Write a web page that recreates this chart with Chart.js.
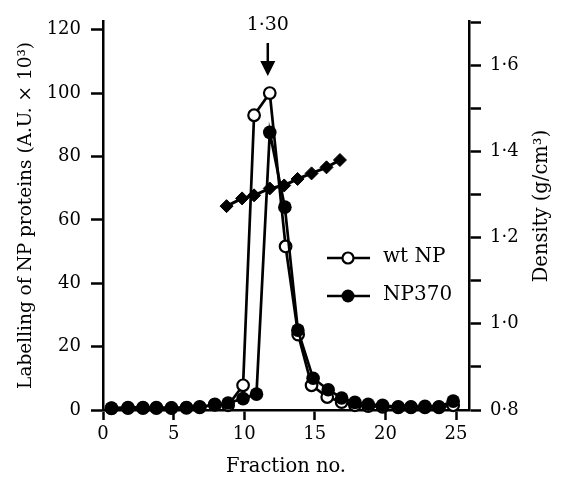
<!DOCTYPE html>
<html>
<head>
<meta charset="utf-8">
<script src="https://cdn.jsdelivr.net/npm/chart.js@4.4.1/dist/chart.umd.min.js"></script>
<style>
    html, body { margin: 0; padding: 0; background: #fff; }
    #wrap { position: relative; width: 565px; height: 483px; }
</style>
</head>
<body>
<div id="wrap"><canvas id="gradientChart"></canvas></div>
<script>
/**
 * Density gradient profile - wt NP vs NP370
 */

// Fraction positions and labelling (A.U. x 10^3)
const wtFractions = [0.6, 1.77, 2.83, 3.78, 4.85, 5.91, 6.85, 7.92, 8.86, 9.92, 10.7, 11.81, 12.93,
    13.82, 14.77, 15.88, 16.9, 17.84, 18.78, 19.8, 20.91, 21.81, 22.8, 23.79, 24.8];
const wtValues = [0.5, 0.6, 0.6, 0.6, 0.6, 0.7, 0.8, 1.8, 1.5, 7.8, 93, 100, 51.6,
    23.8, 7.8, 4.1, 2.5, 1.5, 1.2, 1.0, 0.8, 0.8, 0.8, 0.8, 1.5];

const np370Fractions = [0.6, 1.77, 2.83, 3.78, 4.85, 5.91, 6.85, 7.92, 8.86, 9.92, 10.87, 11.81, 12.88,
    13.8, 14.88, 15.95, 16.9, 17.84, 18.78, 19.8, 20.91, 21.81, 22.8, 23.79, 24.8];
const np370Values = [0.6, 0.8, 0.8, 0.8, 0.7, 0.8, 1.0, 1.6, 2.2, 3.6, 5.0, 87.6, 64,
    25.2, 10, 6.4, 3.8, 2.4, 1.8, 1.5, 1.0, 1.0, 1.2, 1.0, 2.8];

// Density (g/cm3)
const densityFractions = [8.75, 9.85, 10.7, 11.81, 12.83, 13.78, 14.77, 15.83, 16.78];
const densityValues = [1.273, 1.291, 1.298, 1.314, 1.321, 1.336, 1.349, 1.363, 1.380];

// Axis ticks
const xTicks = [0, 5, 10, 15, 20, 25];
const leftTicks = [0, 20, 40, 60, 80, 100, 120];
const rightTicks = [0.8, 0.9, 1.0, 1.1, 1.2, 1.3, 1.4, 1.5, 1.6, 1.7];
const rightTickLabels = ['0·8', '', '1·0', '', '1·2', '', '1·4', '', '1·6', ''];

// Texts
const seriesNames = ['wt NP', 'NP370', 'Density'];
const xTitle = 'Fraction no.';
const leftTitle = 'Labelling of NP proteins (A.U. × 10³)';
const rightTitle = 'Density (g/cm³)';
const peakLabel = '1·30';
const peakFraction = 11.67;

const SERIF = "'DejaVu Serif', serif";
const INK = '#000';

function toPoints(xs, ys) {
    return xs.map((x, i) => ({ x: x, y: ys[i] }));
}

function fixedTicks(values) {
    return function (scale) {
        scale.ticks = values.map(v => ({ value: v }));
    };
}

/**
 * Extra drawing: right title, peak arrow, legend
 */
const figureNotes = {
    id: 'figureNotes',
    afterDraw(chart) {
        const ctx = chart.ctx;
        const xs = chart.scales.x;

        ctx.save();
        ctx.fillStyle = INK;
        ctx.strokeStyle = INK;

        // right axis title (reads upwards)
        ctx.save();
        ctx.translate(542, 206);
        ctx.rotate(-Math.PI / 2);
        ctx.font = '19.5px ' + SERIF;
        ctx.textAlign = 'center';
        ctx.textBaseline = 'middle';
        ctx.fillText(rightTitle, 0, 0);
        ctx.restore();

        // peak density label with arrow
        const px = xs.getPixelForValue(peakFraction);
        ctx.font = '19px ' + SERIF;
        ctx.textAlign = 'center';
        ctx.textBaseline = 'middle';
        ctx.fillText(peakLabel, px, 25);
        ctx.lineWidth = 2.5;
        ctx.beginPath();
        ctx.moveTo(px, 43);
        ctx.lineTo(px, 63);
        ctx.stroke();
        ctx.beginPath();
        ctx.moveTo(px - 7.5, 61);
        ctx.lineTo(px + 7.5, 61);
        ctx.lineTo(px, 76);
        ctx.closePath();
        ctx.fill();

        // legend
        const rows = [
            { y: 258, name: seriesNames[0], open: true },
            { y: 296, name: seriesNames[1], open: false }
        ];
        rows.forEach(r => {
            ctx.lineWidth = 2.5;
            ctx.beginPath();
            ctx.moveTo(327, r.y);
            ctx.lineTo(370, r.y);
            ctx.stroke();
            ctx.beginPath();
            ctx.arc(348, r.y, r.open ? 5.5 : 6.5, 0, Math.PI * 2);
            if (r.open) {
                ctx.fillStyle = '#fff';
                ctx.fill();
                ctx.lineWidth = 2.2;
                ctx.stroke();
                ctx.fillStyle = INK;
            } else {
                ctx.fill();
            }
            ctx.font = '20px ' + SERIF;
            ctx.textAlign = 'left';
            ctx.textBaseline = 'middle';
            ctx.fillText(r.name, 383, r.y - 1);
        });

        ctx.restore();
    }
};

function axisLook(tickLength) {
    return {
        border: { display: true, color: INK, width: 2.5 },
        grid: {
            drawOnChartArea: false,
            drawTicks: true,
            tickLength: tickLength,
            tickColor: INK,
            tickWidth: 2.5
        }
    };
}

function createChart() {
    const ctx = document.getElementById('gradientChart');

    Chart.defaults.font.family = SERIF;
    Chart.defaults.font.size = 18;
    Chart.defaults.color = INK;

    return new Chart(ctx, {
        type: 'scatter',
        data: {
            datasets: [{
                label: seriesNames[1],
                data: toPoints(np370Fractions, np370Values),
                yAxisID: 'y',
                showLine: true,
                borderColor: INK,
                borderWidth: 2.7,
                pointStyle: 'circle',
                pointRadius: 6.8,
                pointBackgroundColor: INK,
                pointBorderColor: INK,
                pointBorderWidth: 0,
                clip: false,
                order: 0
            }, {
                label: seriesNames[0],
                data: toPoints(wtFractions, wtValues),
                yAxisID: 'y',
                showLine: true,
                borderColor: INK,
                borderWidth: 2.7,
                pointStyle: 'circle',
                pointRadius: 5.8,
                pointBackgroundColor: '#fff',
                pointBorderColor: INK,
                pointBorderWidth: 2.2,
                clip: false,
                order: 1
            }, {
                label: seriesNames[2],
                data: toPoints(densityFractions, densityValues),
                yAxisID: 'y1',
                showLine: true,
                borderColor: INK,
                borderWidth: 3,
                pointStyle: 'rectRot',
                pointRadius: 6.5,
                pointBackgroundColor: INK,
                pointBorderColor: INK,
                pointBorderWidth: 1,
                clip: false,
                order: 2
            }]
        },
        options: {
            responsive: true,
            maintainAspectRatio: false,
            animation: false,
            layout: { padding: { top: 15, left: 0, right: 0, bottom: 0 } },
            plugins: {
                legend: { display: false },
                tooltip: { enabled: false }
            },
            scales: {
                x: {
                    type: 'linear',
                    position: 'bottom',
                    min: 0,
                    max: 25.92,
                    ...axisLook(10),
                    afterBuildTicks: fixedTicks(xTicks),
                    afterFit: s => { s.height = 73; },
                    ticks: { padding: 4, font: { size: 18 } },
                    title: {
                        display: true,
                        text: xTitle,
                        font: { size: 19.5 },
                        padding: { top: 0, bottom: 4 }
                    }
                },
                y: {
                    type: 'linear',
                    position: 'left',
                    min: 0,
                    max: 122.8,
                    ...axisLook(12),
                    afterBuildTicks: fixedTicks(leftTicks),
                    afterFit: s => { s.width = 103; },
                    ticks: { padding: 10, font: { size: 18 } },
                    title: {
                        display: true,
                        text: leftTitle,
                        font: { size: 18.5 },
                        padding: { top: 15, bottom: 0 }
                    }
                },
                y1: {
                    type: 'linear',
                    position: 'right',
                    min: 0.8,
                    max: 1.703,
                    ...axisLook(12),
                    afterBuildTicks: fixedTicks(rightTicks),
                    afterFit: s => { s.width = 96; },
                    ticks: {
                        padding: 9,
                        font: { size: 18 },
                        callback: function (value, index) {
                            return rightTickLabels[index];
                        }
                    }
                }
            }
        },
        plugins: [figureNotes]
    });
}

createChart();
</script>
</body>
</html>
